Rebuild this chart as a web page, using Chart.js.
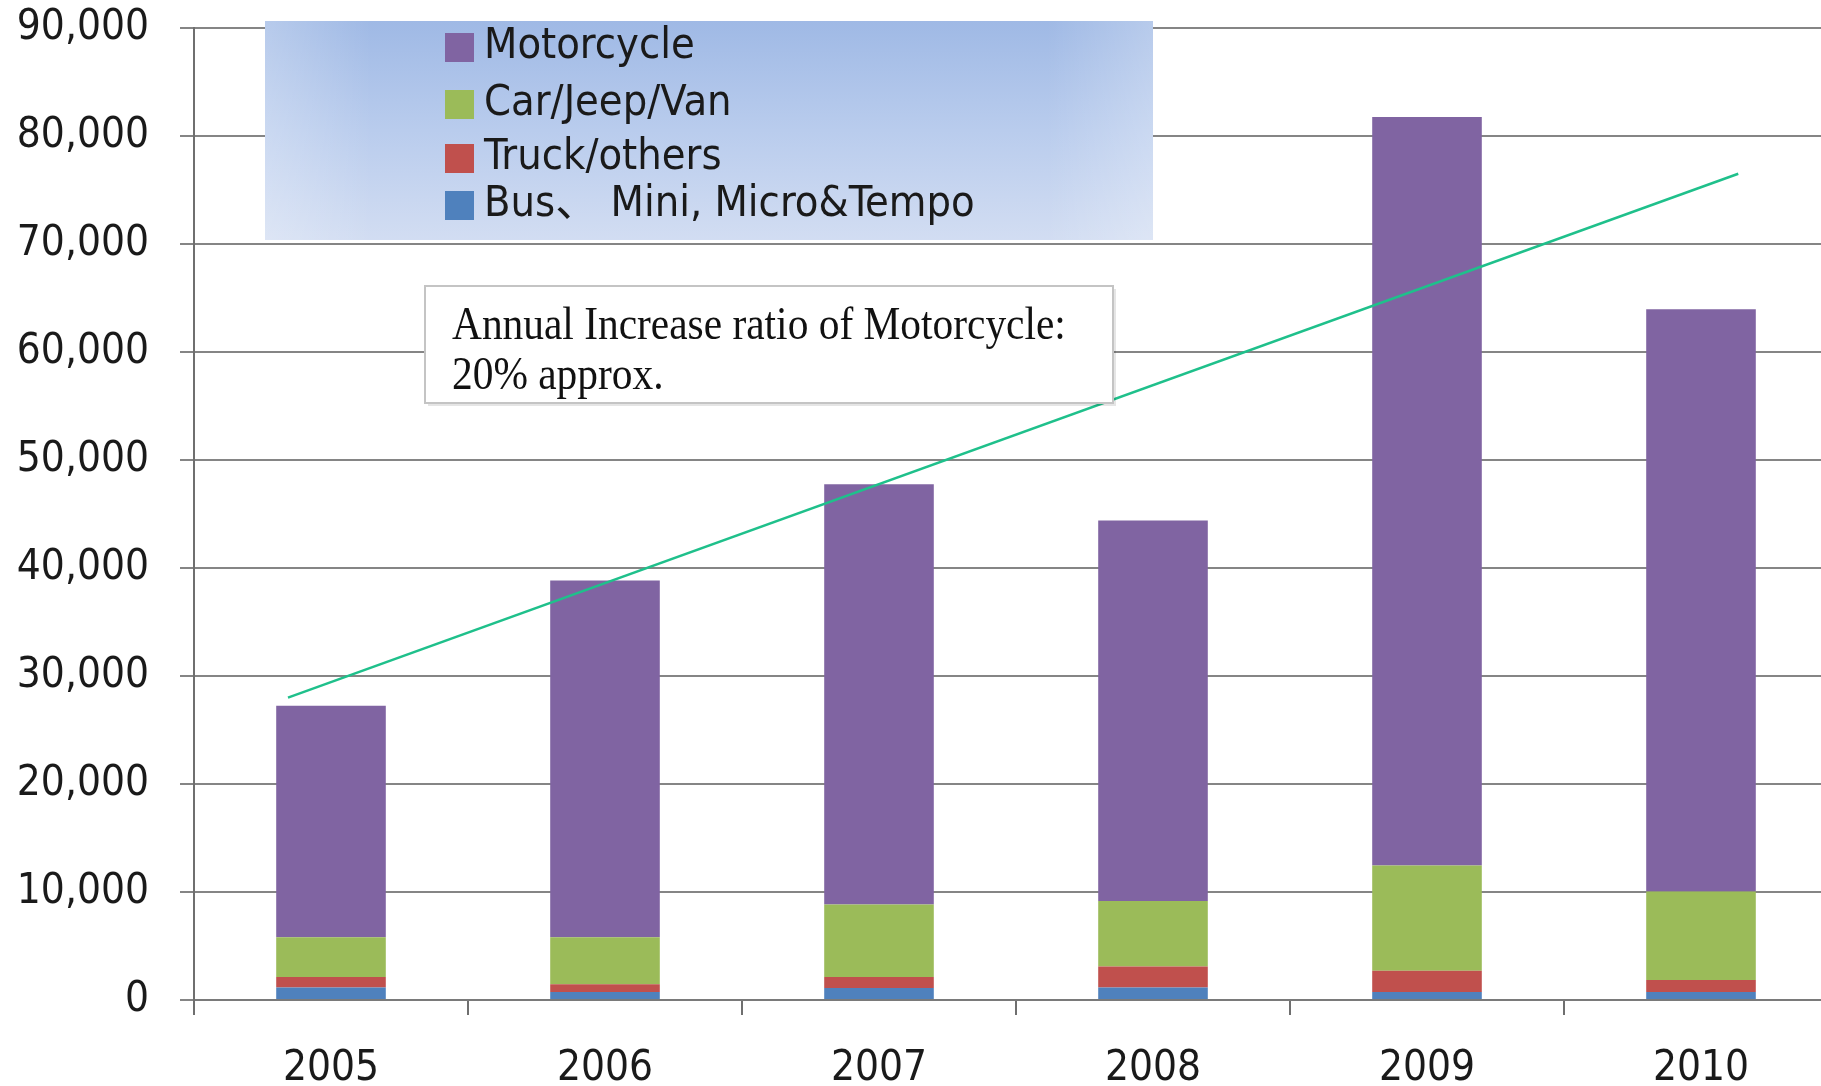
<!DOCTYPE html>
<html>
<head>
<meta charset="utf-8">
<script src="https://cdn.jsdelivr.net/npm/chart.js@4.4.1/dist/chart.umd.min.js"></script>
<style>
  html, body { margin: 0; padding: 0; background: #fff; overflow: hidden; }
  #chart { display: block; }
</style>
</head>
<body>
<canvas id="chart" width="1838" height="1086"></canvas>
<script>
// yearly registered vehicles, stacked bottom -> top
const years = ['2005', '2006', '2007', '2008', '2009', '2010'];
const busMini = [1150, 745, 1120, 1150, 750, 750];
const truckOthers = [990, 715, 1020, 1950, 1950, 1110];
const carJeepVan = [3660, 4340, 6710, 6060, 9750, 8190];
const motorcycle = [21450, 33050, 38900, 35240, 69300, 53900];

// hand drawn trend line (category index, value)
const trendX = [-0.157, 5.136];
const trendY = [28000, 76500];

const yMax = 90000;
const yStep = 10000;

const seriesNames = ['Bus\u3001 Mini, Micro&Tempo', 'Truck/others', 'Car/Jeep/Van', 'Motorcycle'];
const seriesColors = ['#4f81bd', '#c0504d', '#9bbb59', '#8064a2'];

const tickFont = { family: '"DejaVu Sans Condensed", "DejaVu Sans", sans-serif', size: 42 };

// legend panel + text box drawn on top
const overlays = {
  id: 'overlays',
  afterDraw(chart) {
    const ctx = chart.ctx;
    ctx.save();

    // legend panel
    const lx = 265, ly = 21, lw = 888, lh = 219;
    let g = ctx.createLinearGradient(0, ly, 0, ly + lh);
    g.addColorStop(0, '#9fb9e5');
    g.addColorStop(0.5, '#b9cced');
    g.addColorStop(1, '#d2ddf2');
    ctx.fillStyle = g;
    ctx.fillRect(lx, ly, lw, lh);
    let h = ctx.createLinearGradient(lx, 0, lx + lw, 0);
    h.addColorStop(0, 'rgba(255,255,255,0.25)');
    h.addColorStop(0.12, 'rgba(255,255,255,0)');
    h.addColorStop(0.88, 'rgba(255,255,255,0)');
    h.addColorStop(1, 'rgba(255,255,255,0.25)');
    ctx.fillStyle = h;
    ctx.fillRect(lx, ly, lw, lh);

    const items = chart.data.datasets.filter(d => d.type === 'bar').slice().reverse();
    const rowY = [46, 103, 157, 204];
    ctx.font = '43px "DejaVu Sans Condensed", "DejaVu Sans", "Noto Sans CJK SC", sans-serif';
    ctx.textBaseline = 'middle';
    items.forEach((d, i) => {
      const y = rowY[i];
      ctx.fillStyle = d.backgroundColor;
      ctx.fillRect(445, y - 13, 29, 29);
      ctx.fillStyle = '#1a1a1a';
      ctx.fillText(d.label, 484, y + 1);
    });

    // annotation box
    const bx = 425, by = 286, bw = 688, bh = 117;
    ctx.fillStyle = 'rgba(0,0,0,0.10)';
    ctx.fillRect(bx + 3, by + 3, bw, bh);
    ctx.fillStyle = '#ffffff';
    ctx.fillRect(bx, by, bw, bh);
    ctx.strokeStyle = '#c4c4c4';
    ctx.lineWidth = 2;
    ctx.strokeRect(bx, by, bw, bh);

    ctx.fillStyle = '#111';
    ctx.textBaseline = 'alphabetic';
    ctx.font = '46px "Liberation Serif", "Times New Roman", serif';
    ctx.save();
    ctx.translate(452, 0);
    ctx.scale(0.9, 1);
    ctx.fillText('Annual Increase ratio of Motorcycle:', 0, 339);
    ctx.fillText('20% approx.', 0, 389);
    ctx.restore();

    ctx.restore();
  }
};

const barSets = [busMini, truckOthers, carJeepVan, motorcycle].map((vals, i) => ({
  type: 'bar',
  label: seriesNames[i],
  data: vals,
  backgroundColor: seriesColors[i],
  borderWidth: 0,
  stack: 'all',
  grouped: false,
  barPercentage: 0.40,
  categoryPercentage: 1.0,
  order: 2
}));

new Chart(document.getElementById('chart'), {
  data: {
    labels: years,
    datasets: [
      ...barSets,
      {
        type: 'line',
        label: 'trend',
        data: trendX.map((x, i) => ({ x: x, y: trendY[i] })),
        xAxisID: 'xl',
        borderColor: '#1fc08b',
        borderWidth: 2.5,
        pointRadius: 0,
        fill: false,
        order: 1
      }
    ]
  },
  options: {
    responsive: false,
    animation: false,
    devicePixelRatio: 1,
    layout: { padding: { top: 28, left: 0, right: 0, bottom: 0 } },
    plugins: {
      legend: { display: false },
      tooltip: { enabled: false }
    },
    scales: {
      x: {
        stacked: true,
        grid: { drawOnChartArea: false, drawTicks: true, tickLength: 15, color: '#6f6f6f', lineWidth: 2, offset: true },
        border: { color: '#7a7a7a', width: 2 },
        ticks: { font: tickFont, color: '#1a1a1a', padding: 29, maxRotation: 0 },
        afterFit(scale) { scale.height = 86; }
      },
      xl: {
        type: 'linear',
        display: false,
        min: -0.5,
        max: 5.5
      },
      y: {
        stacked: true,
        min: 0,
        max: yMax,
        grid: { color: '#858585', lineWidth: 2, tickLength: 14 },
        border: { color: '#6f6f6f', width: 2 },
        ticks: {
          stepSize: yStep,
          font: tickFont,
          color: '#1a1a1a',
          padding: 31,
          callback: v => v.toLocaleString('en-US')
        },
        afterFit(scale) {
          scale.width = 194;
          scale.paddingTop = 0;
          scale.paddingBottom = 0;
        }
      }
    }
  },
  plugins: [overlays]
});
</script>
</body>
</html>
